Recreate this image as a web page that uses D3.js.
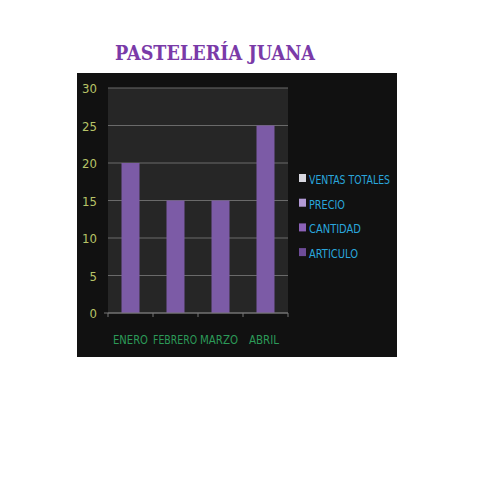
<!DOCTYPE html>
<html><head><meta charset="utf-8">
<script src="https://cdn.jsdelivr.net/npm/d3@7"></script>
<style>body{margin:0;background:#fff}</style>
</head><body>
<div class="chart"></div>
<script>
var months = ["ENERO","FEBRERO","MARZO","ABRIL"];
var values = [20,15,15,25];
var yTicks = [0,5,10,15,20,25,30];
var legendNames = ["VENTAS TOTALES","PRECIO","CANTIDAD","ARTICULO"];
var legendColors = ["#d8d8e0","#b29ad6","#8c62b8","#6e4c98"];

var font = "DejaVu Sans Condensed, Liberation Sans";
var svg = d3.select('.chart').append('svg').attr('width',480).attr('height',480);

svg.append("text").attr("x",115).attr("y",60)
  .attr("font-family","DejaVu Serif").attr("font-size",21).attr("font-weight","bold")
  .attr("fill","#7a3aa8").attr("textLength",200).attr("lengthAdjust","spacingAndGlyphs")
  .text("PASTELERÍA JUANA");

svg.append("rect").attr("x",77).attr("y",73).attr("width",320).attr("height",284).attr("fill","#111");

var x = d3.scaleBand().domain(months).range([108,288]).paddingInner(0.6).paddingOuter(0.3);
var y = d3.scaleLinear().domain([0,30]).range([313,88]);

svg.append("rect").attr("x",108).attr("y",88).attr("width",180).attr("height",225).attr("fill","#262626");

svg.selectAll(".grid").data(yTicks).enter().append("line")
  .attr("x1",108).attr("x2",288).attr("y1",function(d){return y(d);}).attr("y2",function(d){return y(d);})
  .attr("stroke","#6a6a6a").attr("stroke-width",1);

svg.selectAll(".tick-l").data(yTicks).enter().append("text")
  .attr("x",97).attr("y",function(d){return y(d)+5;}).attr("text-anchor","end")
  .attr("font-family",font).attr("font-size",13)
  .attr("fill","#b8c468").text(function(d){return d;});

svg.selectAll(".bar").data(values).enter().append("rect")
  .attr("x",function(d,i){return x(months[i]);}).attr("width",x.bandwidth())
  .attr("y",function(d){return y(d);}).attr("height",function(d){return y(0)-y(d);})
  .attr("fill","#7c5ba6");

var bx = d3.range(5).map(function(i){return 108+i*45;});
svg.selectAll(".xt").data(bx).enter().append("line")
  .attr("x1",function(d){return d;}).attr("x2",function(d){return d;}).attr("y1",313).attr("y2",317)
  .attr("stroke","#777");
svg.append("line").attr("x1",104).attr("x2",288).attr("y1",313).attr("y2",313).attr("stroke","#777");

var xl = [113,153,200,249];
var xw = [35,44,38,30];
svg.selectAll(".xl").data(months).enter().append("text")
  .attr("x",function(d,i){return xl[i];}).attr("y",344)
  .attr("textLength",function(d,i){return xw[i];}).attr("lengthAdjust","spacingAndGlyphs")
  .attr("font-family",font).attr("font-size",13)
  .attr("fill","#2c9a58").text(function(d){return d;});

var lw = [81,36,52,49];
var lg = svg.selectAll(".lg").data(legendNames).enter().append("g")
  .attr("transform",function(d,i){return "translate(299,"+(179+i*24.7)+")";});
lg.append("rect").attr("x",0).attr("y",-5).attr("width",7).attr("height",8)
  .attr("fill",function(d,i){return legendColors[i];});
lg.append("text").attr("x",10).attr("y",5)
  .attr("textLength",function(d,i){return lw[i];}).attr("lengthAdjust","spacingAndGlyphs")
  .attr("font-family",font).attr("font-size",13)
  .attr("fill","#2aa6dc").text(function(d){return d;});
</script>
</body></html>
